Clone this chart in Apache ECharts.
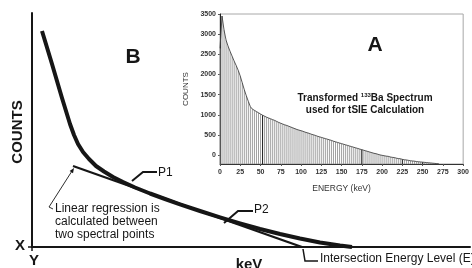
<!DOCTYPE html>
<html><head><meta charset="utf-8">
<script src="https://cdn.jsdelivr.net/npm/echarts@6/dist/echarts.min.js"></script>
<style>html,body{margin:0;padding:0;background:#fff}#c{width:472px;height:268px}</style>
</head><body><div id="c"></div>
<script>
const FONT = "'Liberation Sans', Arial, Helvetica, sans-serif";

// ---- Panel B (schematic, arbitrary linear units) ----
const curveB = [[10,216],[20,183],[30,149],[38,123],[42,112],[46,103],[51,95],[57,88],[64,81],[72,75.5],[81,70],[91,65],[103,59.5],[118,53.5],[133,48],[148,42.7],[168,36],[188,29.7],[208,23.7],[228,18],[248,13],[268,8.5],[288,4.5],[308,1.5],[320,0]];
const regressionB = [[41,81],[270,0]];

// ---- Panel A (transformed 133Ba spectrum) ----
const binWidth = 2.5; // keV per channel
const spectrumCounts = [
  2650,3450,3100,2850,2700,2570,2450,2330,2220,2100,
  1960,1790,1620,1470,1330,1200,1140,1110,1080,1050,
  1020,990,965,940,920,900,880,860,835,810,
  790,770,750,735,715,695,675,655,635,620,
  605,590,570,555,540,520,505,490,470,455,
  440,425,410,395,380,365,345,330,315,300,
  285,270,255,240,225,210,195,180,165,150,
  135,120,105,90,75,60,45,35,20,5,
  -5,-15,-25,-30,-45,-55,-60,-75,-85,-90,
  -105,-115,-120,-130,-140,-145,-150,-160,-165,-170,
  -175,-180,-185,-190,-195,-200,-205,-210,-215
];
const darkBins = [52.5, 175, 225, 250];
const countTicks = [0,500,1000,1500,2000,2500,3000,3500];
const energyMin = 0, energyMax = 300, energyStep = 25;
const countMin = -220, countMax = 3500;

const spectrum = spectrumCounts.map((c, i) => [i * binWidth, c]);
const darkData = spectrum.filter(d => darkBins.includes(d[0]));

const chart = echarts.init(document.getElementById('c'), null, {renderer: 'canvas'});
const INK = '#161616';

function hatch(color, w) {
  return function (params, api) {
    const x = api.value(0), y = api.value(1);
    const p0 = api.coord([x, countMin]);
    const p1 = api.coord([x, y]);
    return {type: 'line', shape: {x1: p0[0], y1: p0[1], x2: p1[0], y2: p1[1]},
      style: {stroke: color, lineWidth: w}};
  };
}

function txt(x, y, text, size, opts) {
  opts = opts || {};
  return {type: 'text', x: x, y: y, rotation: opts.rot || 0, z: 10,
    style: {text: text, fill: opts.color || INK, font: (opts.bold ? 'bold ' : '') + size + 'px ' + FONT,
      align: opts.align || 'center', verticalAlign: 'middle'}};
}
function poly(points, w) {
  return {type: 'polyline', z: 10, shape: {points: points}, style: {stroke: INK, lineWidth: w, fill: null}};
}

chart.setOption({
  animation: false,
  backgroundColor: '#fff',
  grid: [
    {left: 32, top: 13, width: 438, height: 234},
    {left: 220, top: 14, width: 250, height: 150, show: true, borderColor: '#a8a8a8', borderWidth: 1, backgroundColor: '#fff', z: 3}
  ],
  xAxis: [
    {gridIndex: 0, type: 'value', min: 0, max: 438, axisLine: {show: true, onZero: false, lineStyle: {color: INK, width: 2}},
      axisTick: {show: false}, axisLabel: {show: false}, splitLine: {show: false}},
    {gridIndex: 1, type: 'value', min: energyMin, max: energyMax, interval: energyStep, z: 4,
      axisLine: {show: true, onZero: false, lineStyle: {color: '#333', width: 1}},
      axisTick: {show: true, length: 2, lineStyle: {color: '#555'}},
      axisLabel: {fontSize: 7, fontWeight: 'bold', color: '#333', fontFamily: FONT, margin: 5, showMaxLabel: true,
        formatter: v => String(v)},
      splitLine: {show: false},
      name: 'ENERGY (keV)', nameLocation: 'middle', nameGap: 20,
      nameTextStyle: {fontSize: 8.5, color: '#333', fontFamily: FONT}}
  ],
  yAxis: [
    {gridIndex: 0, type: 'value', min: 0, max: 234, axisLine: {show: true, onZero: false, lineStyle: {color: INK, width: 2}},
      axisTick: {show: false}, axisLabel: {show: false}, splitLine: {show: false}},
    {gridIndex: 1, type: 'value', min: countMin, max: countMax, z: 4,
      axisLine: {show: true, onZero: false, lineStyle: {color: '#222', width: 1}},
      axisTick: {show: true, length: 2, customValues: countTicks, lineStyle: {color: '#555'}},
      axisLabel: {fontSize: 7, fontWeight: 'bold', color: '#333', fontFamily: FONT, margin: 4, customValues: countTicks,
        formatter: v => String(v)},
      splitLine: {show: false},
      name: 'COUNTS', nameLocation: 'middle', nameGap: 27, nameRotate: 90,
      nameTextStyle: {fontSize: 8, color: '#333', fontFamily: FONT}}
  ],
  series: [
    {type: 'line', xAxisIndex: 0, yAxisIndex: 0, data: curveB, smooth: false, symbol: 'none',
      lineStyle: {color: INK, width: 4, cap: 'butt', join: 'round'}, z: 5},
    {type: 'line', xAxisIndex: 0, yAxisIndex: 0, data: regressionB, symbol: 'none',
      lineStyle: {color: INK, width: 2.2}, z: 5},
    {type: 'custom', xAxisIndex: 1, yAxisIndex: 1, data: spectrum, encode: {x: 0, y: 1},
      renderItem: hatch('#959595', 0.9), z: 5},
    {type: 'custom', xAxisIndex: 1, yAxisIndex: 1, data: darkData, encode: {x: 0, y: 1},
      renderItem: hatch('#222', 1), z: 6},
    {type: 'line', xAxisIndex: 1, yAxisIndex: 1, data: spectrum, symbol: 'none',
      lineStyle: {color: '#444', width: 0.9}, z: 7}
  ],
  graphic: [
    txt(133, 57, 'B', 21, {bold: true}),
    txt(18, 132, 'COUNTS', 15, {bold: true, rot: Math.PI / 2}),
    txt(20, 246, 'X', 15, {bold: true}),
    txt(34, 261, 'Y', 15, {bold: true}),
    poly([[28, 247], [32, 247], [32, 251]], 1.5),
    txt(158, 173, 'P1', 12, {align: 'left'}),
    poly([[157, 172], [143, 172], [132, 181]], 2),
    txt(55, 209, 'Linear regression is', 12, {align: 'left'}),
    txt(55, 222, 'calculated between', 12, {align: 'left'}),
    txt(55, 235, 'two spectral points', 12, {align: 'left'}),
    poly([[53, 209], [49, 207], [72, 171]], 0.9),
    {type: 'polygon', z: 10, shape: {points: [[74, 168], [73, 173.3], [69.6, 171.1]]}, style: {fill: INK}},
    txt(254, 210, 'P2', 12, {align: 'left'}),
    poly([[253, 211], [238, 211], [224, 223]], 2),
    poly([[303, 249], [305, 261], [318, 261]], 1.5),
    txt(320, 259, 'Intersection Energy Level (E)', 12, {align: 'left'}),
    txt(249, 265, 'keV', 15, {bold: true}),
    txt(375, 45, 'A', 21, {bold: true}),
    {type: 'text', x: 365, y: 98, z: 10, style: {
      text: '{a|Transformed }{s|133}{a|Ba Spectrum}', align: 'center', verticalAlign: 'middle',
      rich: {a: {font: 'bold 10px ' + FONT, fill: INK}, s: {font: 'bold 6px ' + FONT, fill: INK, verticalAlign: 'top', padding: [0, 0, 5, 0]}}}},
    txt(365, 110, 'used for tSIE Calculation', 10, {bold: true})
  ]
});
</script></body></html>
